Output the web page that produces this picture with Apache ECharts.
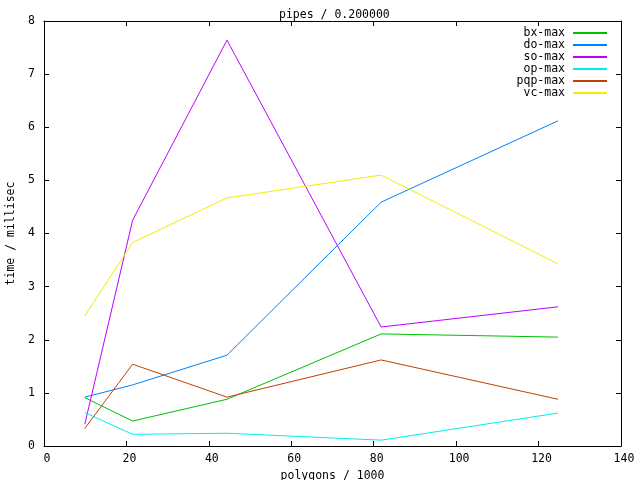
<!DOCTYPE html>
<html><head><meta charset="utf-8">
<script src="https://cdn.jsdelivr.net/npm/echarts@6/dist/echarts.min.js"></script>
<style>html,body{margin:0;padding:0;background:#fff}#c{width:640px;height:480px}</style>
</head><body><div id="c"></div>
<script>
const xs = [9.9, 21.5, 44.4, 81.8, 124.7];
const bxMax = [0.91, 0.47, 0.88, 2.11, 2.05];
const doMax = [0.92, 1.15, 1.71, 4.59, 6.12];
const soMax = [0.41, 4.25, 7.64, 2.24, 2.62];
const opMax = [0.63, 0.22, 0.24, 0.11, 0.62];
const pqpMax = [0.33, 1.54, 0.92, 1.62, 0.88];
const vcMax = [2.45, 3.83, 4.67, 5.10, 3.43];
const seriesNames = ['bx-max', 'do-max', 'so-max', 'op-max', 'pqp-max', 'vc-max'];
const seriesData = [bxMax, doMax, soMax, opMax, pqpMax, vcMax];
const colors = ['#00c000', '#0080ff', '#c000ff', '#00eeee', '#c04000', '#eeee00'];

const font = 'DejaVu Sans Mono';
const fs = 11.5;
const chart = echarts.init(document.getElementById('c'), null, {renderer: 'canvas'});
const axLine = {onZero: false, lineStyle: {color: '#000', width: 1}};
const axTick = {show: true, inside: true, length: 5, lineStyle: {color: '#000'}};
chart.setOption({
  animation: false,
  backgroundColor: '#fff',
  color: colors,
  title: {text: 'pipes / 0.200000', left: 279, top: 9, padding: 0,
    textStyle: {fontFamily: font, fontSize: fs, fontWeight: 'normal', color: '#000'}},
  legend: {
    orient: 'vertical', right: 33, top: 27, align: 'right', padding: 0,
    itemWidth: 34, itemHeight: 2, itemGap: 0, icon: 'rect',
    textStyle: {fontFamily: font, fontSize: fs, color: '#000', lineHeight: 12, padding: [0, 3, 0, 0]},
    data: seriesNames
  },
  grid: {left: 44, right: 19, top: 21, bottom: 34, containLabel: false, outerBoundsMode: 'none'},
  xAxis: [
    {type: 'value', min: 0, max: 140, interval: 20, position: 'bottom',
     name: 'polygons / 1000', nameLocation: 'middle', nameGap: 24,
     nameTextStyle: {fontFamily: font, fontSize: fs, color: '#000'},
     axisLine: axLine, axisTick: axTick, splitLine: {show: false},
     axisLabel: {fontFamily: font, fontSize: fs, color: '#000', margin: 7, padding: [0, 0, 0, 6]}},
    {type: 'value', min: 0, max: 140, interval: 20, position: 'top',
     axisLine: axLine, axisTick: axTick, splitLine: {show: false}, axisLabel: {show: false}}
  ],
  yAxis: [
    {type: 'value', min: 0, max: 8, interval: 1, position: 'left',
     name: 'time / millisec', nameLocation: 'middle', nameGap: 27,
     nameTextStyle: {fontFamily: font, fontSize: fs, color: '#000'},
     axisLine: axLine, axisTick: axTick, splitLine: {show: false},
     axisLabel: {fontFamily: font, fontSize: fs, color: '#000', margin: 9}},
    {type: 'value', min: 0, max: 8, interval: 1, position: 'right',
     axisLine: axLine, axisTick: axTick, splitLine: {show: false}, axisLabel: {show: false}}
  ],
  series: seriesNames.map((n, i) => ({
    name: n, type: 'line', xAxisIndex: 0, yAxisIndex: 0,
    data: xs.map((x, j) => [x, seriesData[i][j]]),
    showSymbol: false, symbol: 'none',
    lineStyle: {width: 1, color: colors[i]}, itemStyle: {color: colors[i]}
  }))
});
</script></body></html>
